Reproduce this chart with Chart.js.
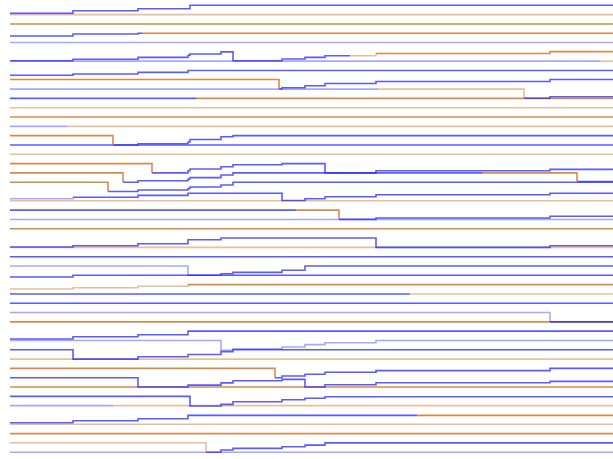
<!DOCTYPE html>
<html><head><meta charset="utf-8">
<script src="https://cdn.jsdelivr.net/npm/chart.js@4/dist/chart.umd.min.js"></script>
<style>html,body{margin:0;padding:0;background:#fff;overflow:hidden}#wrap{width:613px;height:459px}</style>
</head><body><div id="wrap"><canvas id="c" width="613" height="459"></canvas></div>
<script>
// x = time position, y = lane (0 at top). Each series: points [x, lane]; runs: [x_start, colour kind]
const X_END = 613;
const LANE_MIN = -0.57, LANE_MAX = 48.73;

const sA  = [[10,0.86],[73,0.58],[138,0.37],[190,0]];                 const rA  = [[10,'blue']];
const s01 = [[10,1]];                                                  const r01 = [[10,'lorange']];
const s02 = [[10,2]];                                                  const r02 = [[10,'orange']];
const sB  = [[10,3.3],[73,3.08],[138,3.0]];                            const rB  = [[10,'blue'],[142,'orange']];
const s04 = [[10,4]];                                                  const r04 = [[10,'lblue']];
const sC  = [[10,5.95],[73,5.8],[138,5.59],[188,5.37],[190,5.23],[221,5.0],[233,5.95],[282,5.77],[305,5.59],[325,5.41],[376,5.18],[550,4.97]];
const rC  = [[10,'blue'],[350,'lorange'],[376,'orange']];
const s06 = [[10,6]];                                                  const r06 = [[10,'lblue'],[600,'lorange']];
const sE  = [[10,7.52],[73,7.38],[138,7.2],[188,7.0]];                 const rE  = [[10,'blue']];
const sF  = [[10,7.97],[279,8.99],[282,8.85],[305,8.64],[325,8.4],[376,8.18],[550,7.97]];
const rF  = [[10,'orange'],[279,'blue']];
const sG  = [[10,9],[524,9.98],[550,9.82]];                            const rG  = [[10,'lblue'],[378,'lorange'],[524,'blue']];
const sH  = [[10,10]];                                                 const rH  = [[10,'blue'],[196,'orange']];
const s11 = [[10,11]];                                                 const r11 = [[10,'lorange']];
const s12 = [[10,12]];                                                 const r12 = [[10,'orange']];
const s13 = [[10,13]];                                                 const r13 = [[10,'lblue'],[67,'lorange']];
const sI  = [[10,14],[113,15],[138,14.87],[188,14.68],[190,14.41],[221,14.11],[233,14]];
const rI  = [[10,'orange'],[113,'blue']];
const s15 = [[10,15]];                                                 const r15 = [[10,'blue']];
const s16 = [[10,16]];                                                 const r16 = [[10,'lorange']];
const sJ  = [[10,17],[152,18],[188,17.77],[190,17.58],[221,17.34],[233,17.12],[282,17],[325,18],[376,17.77],[550,17.62]];
const rJ  = [[10,'orange'],[152,'blue']];
const sK  = [[10,18],[123,19],[138,18.84],[188,18.66],[190,18.51],[221,18.22],[233,18],[577,18.93]];
const rK  = [[10,'orange'],[123,'blue'],[482,'orange'],[577,'blue']];
const sL  = [[10,19],[108,20],[138,19.84],[188,19.68],[190,19.52],[221,19.3],[233,19]];
const rL  = [[10,'orange'],[108,'blue']];
const sM  = [[10,20.77],[73,20.62],[138,20.41],[188,20.19],[282,20.97],[305,20.77],[325,20.56],[376,20.34],[550,20.19]];
const rM  = [[10,'lblue'],[73,'blue']];
const s21 = [[10,21]];                                                 const r21 = [[10,'lorange']];
const sN  = [[10,22],[339,22.99],[376,22.85],[550,22.66]];            const rN  = [[10,'blue'],[296,'orange'],[339,'blue']];
const s23 = [[10,23]];                                                 const r23 = [[10,'lblue']];
const s24 = [[10,24]];                                                 const r24 = [[10,'orange']];
const sO  = [[10,25.96],[73,25.82],[138,25.61],[188,25.18],[221,25],[376,26],[550,25.82]];
const rO  = [[10,'blue']];
const s26 = [[10,26]];                                                 const r26 = [[10,'lorange']];
const s27 = [[10,27]];                                                 const r27 = [[10,'blue']];
const sP  = [[10,28],[188,29],[221,28.83],[233,28.68],[282,28.46],[305,28]];
const rP  = [[10,'lblue'],[188,'blue']];
const sQ  = [[10,29.18],[73,29]];                                      const rQ  = [[10,'blue']];
const sR  = [[10,30.47],[73,30.33],[138,30.18],[188,30]];              const rR  = [[10,'lorange'],[188,'orange']];
const sS  = [[10,31]];                                                 const rS  = [[10,'blue'],[410,'lorange']];
const s32 = [[10,32]];                                                 const r32 = [[10,'blue']];
const sT  = [[10,33],[550,34]];                                        const rT  = [[10,'lblue'],[550,'blue']];
const s34 = [[10,34]];                                                 const r34 = [[10,'orange']];
const sU  = [[10,35.84],[73,35.6],[138,35.38],[188,35]];               const rU  = [[10,'blue']];
const sV  = [[10,36],[221,37.05],[233,36.9],[282,36.7],[305,36.45],[325,36.25],[376,36]];
const rV  = [[10,'lblue']];
const sW  = [[10,37],[73,38],[138,37.74],[188,37.5],[221,37.2],[233,37]];
const rW  = [[10,'blue']];
const s38 = [[10,38]];                                                 const r38 = [[10,'lorange']];
const sX  = [[10,39],[275,40],[282,39.81],[305,39.63],[325,39.41],[376,39.24],[550,39]];
const rX  = [[10,'orange'],[275,'blue']];
const sY  = [[10,40],[138,41],[188,40.8],[221,40.55],[233,40.33],[282,40.18],[305,41],[325,40.75],[376,40.54],[550,40.39]];
const rY  = [[10,'blue']];
const s41 = [[10,41]];                                                 const r41 = [[10,'orange']];
const sZ  = [[10,42],[190,43.04],[221,42.86],[233,42.58],[282,42.36],[305,42.21],[325,42.04]];
const rZ  = [[10,'blue']];
const sAA = [[10,43]];                                                 const rAA = [[10,'lblue'],[113,'lorange']];
const sAB = [[10,44.83],[73,44.62],[138,44.4],[188,44.04]];            const rAB = [[10,'blue'],[417,'orange']];
const s45 = [[10,45]];                                                 const r45 = [[10,'lorange']];
const s46 = [[10,46]];                                                 const r46 = [[10,'orange']];
const sAC = [[10,46.98],[206,48],[221,47.77],[233,47.59],[282,47.42],[305,47.24],[325,47]];
const rAC = [[10,'lorange'],[206,'blue']];
const s48 = [[10,48]];                                                 const r48 = [[10,'lblue']];

const SERIES = [
  [sA,rA],[s01,r01],[s02,r02],[sB,rB],[s04,r04],[sC,rC],[s06,r06],[sE,rE],[sF,rF],[sG,rG],[sH,rH],
  [s11,r11],[s12,r12],[s13,r13],[sI,rI],[s15,r15],[s16,r16],[sJ,rJ],[sK,rK],[sL,rL],[sM,rM],[s21,r21],
  [sN,rN],[s23,r23],[s24,r24],[sO,rO],[s26,r26],[s27,r27],[sP,rP],[sQ,rQ],[sR,rR],[sS,rS],[s32,r32],
  [sT,rT],[s34,r34],[sU,rU],[sV,rV],[sW,rW],[s38,r38],[sX,rX],[sY,rY],[s41,r41],[sZ,rZ],[sAA,rAA],
  [sAB,rAB],[s45,r45],[s46,r46],[sAC,rAC],[s48,r48]
];

const COLORS = {
  blue: 'rgba(45,45,255,0.78)',
  lblue: 'rgba(45,45,255,0.42)',
  orange: 'rgba(205,120,45,0.85)',
  lorange: 'rgba(214,148,88,0.6)'
};

function valAt(pts, x) { let v = pts[0][1]; for (const p of pts) if (p[0] <= x) v = p[1]; return v; }

const datasets = [];
for (const [pts0, runs] of SERIES) {
  const pts = pts0.concat([[X_END, pts0[pts0.length - 1][1]]]);
  runs.forEach((r, i) => {
    const xs = r[0];
    const xe = i + 1 < runs.length ? runs[i + 1][0] : X_END;
    const data = [{x: xs, y: valAt(pts, xs)}];
    for (const p of pts) if (p[0] > xs && p[0] < xe) data.push({x: p[0], y: p[1]});
    data.push({x: xe, y: valAt(pts, xe)});
    datasets.push({
      data, borderColor: COLORS[r[1]], backgroundColor: COLORS[r[1]],
      borderWidth: 1.6, pointRadius: 0, stepped: 'before', fill: false, tension: 0
    });
  });
}

new Chart(document.getElementById('c').getContext('2d'), {
  type: 'line',
  data: { datasets },
  options: {
    responsive: false, animation: false,
    layout: { padding: 0 },
    plugins: { legend: { display: false }, tooltip: { enabled: false } },
    scales: {
      x: { type: 'linear', min: 0, max: X_END, display: false },
      y: { type: 'linear', min: LANE_MIN, max: LANE_MAX, reverse: true, display: false }
    }
  }
});
</script></body></html>
